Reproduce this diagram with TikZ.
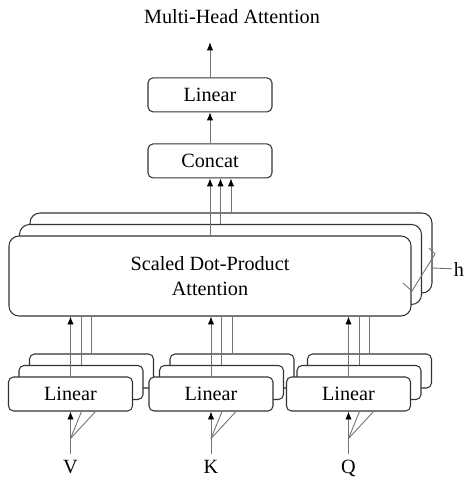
\documentclass[tikz,border=0pt]{standalone}
\usepackage{fontspec}
\setmainfont{Liberation Serif}
\usetikzlibrary{positioning,calc,arrows.meta}

\begin{document}
\begin{tikzpicture}[node distance=0.31cm,
    font=\fontsize{11.5}{14}\selectfont,
    linbox/.style={draw=black!80, fill=white, line width=0.6pt, rounded corners=0.1cm, minimum width=2.48cm, minimum height=0.68cm, inner sep=0pt},
    attbox/.style={draw=black!80, fill=white, line width=0.6pt, rounded corners=0.2cm, minimum width=8.04cm, minimum height=1.6cm, align=center},
    conn/.style={draw=black!55, line width=0.5pt},
    arr/.style={conn, -{Latex[length=4.5pt, width=3.6pt, color=black]}}]
    \useasboundingbox (0,0) rectangle (9.48,-9.72);

    % attention heads, back to front
    \node (att3) [attbox] at (4.62,-5.06) {};
    \node (att2) [attbox] at (4.41,-5.29) {};
    \node (att1) [attbox] at (4.2,-5.52) {Scaled Dot-Product\\Attention};

    % concat and output layer
    \node (concat) [linbox, above=1.14cm of att1] {Concat};
    \node (out) [linbox, above=0.62cm of concat] {Linear};
    \node (head) at (4.64,-0.34) {Multi-Head Attention};
    \coordinate (outtop) at ($(out.north)+(0,0.7)$);

    % linear projections of V, K, Q (back layers first)
    \foreach \n/\x in {v/1.41, k/4.22, q/6.97} {
        \node (\n3) [linbox] at (\x+0.42,-7.42) {};
        \node (\n2) [linbox] at (\x+0.21,-7.65) {};
        \node (\n1) [linbox] at (\x,-7.88) {Linear};
    }
    \foreach \n/\lbl in {v/V, k/K, q/Q}
        \node (in\n) [below=0.85cm of \n1] {\lbl};

    % inputs and projections into the heads
    \foreach \n in {v,k,q} {
        \draw[arr] (in\n) -- (\n1);
        \coordinate (split\n) at ($(\n1.south)+(0,-0.54)$);
        \draw[conn] (split\n) -- ($(\n1.south)+(0.22,0)$);
        \draw[conn] (split\n) -- ($(\n1.south)+(0.5,0)$);
        \draw[arr] (\n1) -- (\n1 |- att1.south);
        \draw[conn] (\n2.north) -- (\n2.north |- att1.south);
        \draw[conn] (\n3.north) -- (\n3.north |- att1.south);
    }

    % heads into concat, then output
    \draw[arr] (att1) -- (concat);
    \draw[arr] (att2.north) -- (att2.north |- concat.south);
    \draw[arr] (att3.north) -- (att3.north |- concat.south);
    \draw[arr] (concat) -- (out);
    \draw[arr] (out) -- (outtop);

    % h heads bracket
    \draw[conn] (8.06,-5.66) -- (8.24,-5.82) -- (8.70,-5.08) -- (8.58,-4.96);
    \node (hlbl) [inner sep=1pt] at (9.18,-5.38) {h};
    \draw[conn] (8.64,-5.36) -- (hlbl);
\end{tikzpicture}
\end{document}
